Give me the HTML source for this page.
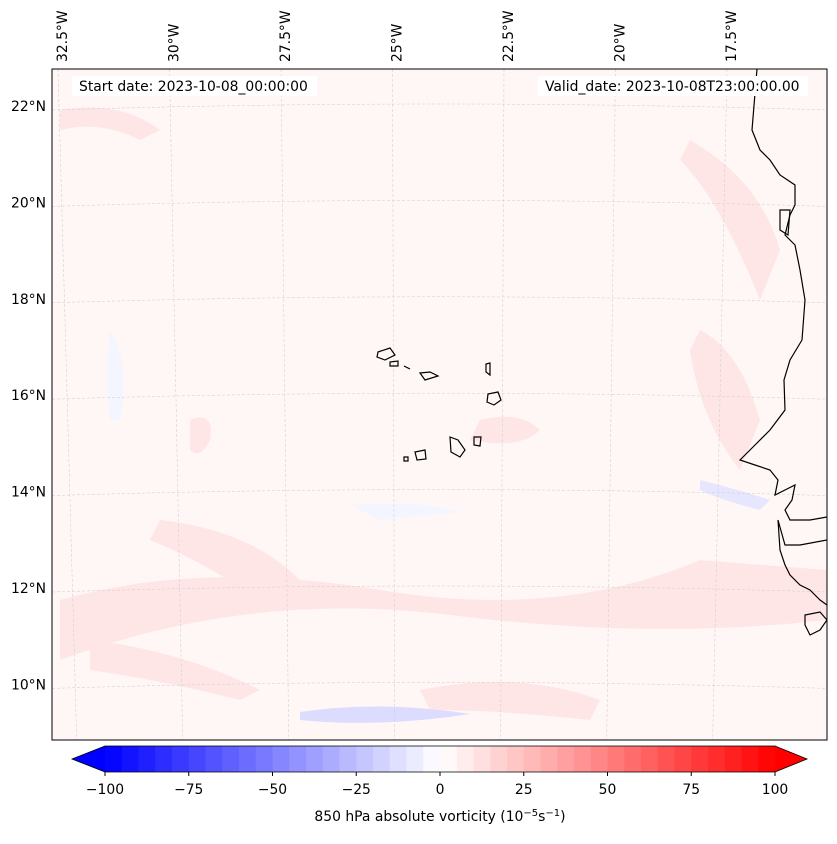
<!DOCTYPE html>
<html><head><meta charset="utf-8">
<style>
body{margin:0;background:#fff;font-family:"Liberation Sans","DejaVu Sans",sans-serif;}
svg text{font-family:"DejaVu Sans","Liberation Sans",sans-serif;font-size:13.9px;fill:#000}
</style></head>
<body>
<svg id="fig" width="837" height="839" viewBox="0 0 837 839">
<defs>
<clipPath id="mapclip"><rect x="52" y="69" width="775" height="671"/></clipPath>
</defs>
<g id="map" clip-path="url(#mapclip)">
<rect x="52" y="69" width="775" height="671" fill="#fff6f6"/>
<g fill="#ffe6e6">
<path d="M60 600 Q200 560 380 590 T700 560 L827 570 L827 620 Q650 640 450 615 T60 660Z"/>
<path d="M160 520 Q250 530 300 580 L260 600 Q200 560 150 540Z"/>
<path d="M480 420 Q520 410 540 430 Q520 450 470 440Z"/>
<path d="M690 140 Q760 180 780 250 L760 300 Q720 200 680 160Z"/>
<path d="M700 330 Q740 350 760 420 L740 470 Q700 420 690 350Z"/>
<path d="M60 110 Q120 100 160 130 L140 140 Q100 120 60 130Z"/>
<path d="M420 690 Q520 670 600 700 L590 720 Q500 710 430 710Z"/>
<path d="M90 640 Q180 650 260 690 L240 700 Q160 680 90 670Z"/>
<path d="M190 420 Q215 410 210 440 Q200 460 190 450Z"/>
</g>
<g fill="#f3f5ff">
<path d="M300 712 Q380 700 470 714 Q380 728 300 720Z" fill="#dcdcff"/>
<path d="M110 330 Q130 360 120 420 L110 420 Q105 370 110 330Z"/>
<path d="M700 480 Q740 490 770 500 L760 510 Q720 500 700 490Z" fill="#e6e6ff"/>
<path d="M350 505 Q420 500 460 512 L380 520Z"/>
</g>
<g id="grid" stroke="#ccc" stroke-width="0.5" stroke-dasharray="3,2" fill="none"></g>
<g fill="none" stroke="#000" stroke-width="1.2">
<path d="M757 69 L752 130 L760 150 L770 160 L780 175 L795 185 L795 205 L790 215 L785 235 L795 245 L800 270 L805 300 L802 340 L790 360 L784 380 L785 410 L770 430 L755 445 L740 460 L755 465 L770 470 L778 480 L775 495 L785 490 L795 485 L792 500 L785 510 L790 520 L810 520 L827 517"/>
<path d="M827 540 L800 545 L785 545 L778 520 L780 550 L785 565 L790 575 L800 585 L810 590 L820 600 L827 605"/>
<path d="M805 615 L820 612 L827 620 L820 630 L810 635 L805 625Z"/>
<path d="M378 352 L390 348 L395 355 L385 360 L377 357Z"/>
<path d="M390 362 L398 361 L398 366 L390 366Z"/>
<path d="M420 373 L430 372 L438 376 L425 380Z"/>
<path d="M486 364 L490 363 L490 375 L486 372Z"/>
<path d="M488 394 L498 392 L501 400 L494 405 L487 402Z"/>
<path d="M450 437 L458 440 L465 450 L460 457 L451 452Z"/>
<path d="M474 437 L481 437 L480 446 L474 445Z"/>
<path d="M415 452 L425 450 L426 459 L417 460Z"/>
<path d="M404 457 L408 457 L408 461 L404 461Z"/>
<path d="M404 366 L410 369" /><path d="M780 210 L790 210 L788 235 L780 230Z"/>
</g>
</g>
<rect x="52" y="69" width="775" height="671" fill="none" stroke="#000" stroke-width="1"/>
<rect x="72" y="76" width="245" height="20" fill="#fff"/>
<text x="79" y="91">Start date: 2023-10-08_00:00:00</text>
<rect x="538" y="76" width="270" height="20" fill="#fff"/>
<text x="545" y="91">Valid_date: 2023-10-08T23:00:00.00</text>
<g id="latlabels"></g>
<g id="lonlabels"></g>
<g id="cbar"></g>
<text x="440" y="821" text-anchor="middle">850 hPa absolute vorticity (10<tspan font-size="10" dy="-5">−5</tspan><tspan dy="5">s</tspan><tspan font-size="10" dy="-5">−1</tspan><tspan dy="5">)</tspan></text>
</svg>
<script>
const latTicks=[22,20,18,16,14,12,10];
const latLabels=["22°N","20°N","18°N","16°N","14°N","12°N","10°N"];
const lonTicks=[-32.5,-30,-27.5,-25,-22.5,-20,-17.5];
const lonLabels=["32.5°W","30°W","27.5°W","25°W","22.5°W","20°W","17.5°W"];
const cbarTicks=[-100,-75,-50,-25,0,25,50,75,100];
const cbarTickLabels=["−100","−75","−50","−25","0","25","50","75","100"];
const levelMin=-100, levelMax=100, levelStep=5;
const NS="http://www.w3.org/2000/svg";
function yLat(l){return 106+(22-l)*48.2;}
function xLon(l){return 62+(l+32.5)*44.6;}
function xC(v){return 105+(v-levelMin)/(levelMax-levelMin)*670;}
function mk(t,a,p){const e=document.createElementNS(NS,t);for(const k in a)e.setAttribute(k,a[k]);p.appendChild(e);return e;}
function bwr(v){const t=(v-levelMin)/(levelMax-levelMin);let r,g,b;
 if(t<0.5){r=g=Math.round(255*t*2);b=255;}else{r=255;g=b=Math.round(255*(1-t)*2);}return `rgb(${r},${g},${b})`;}
const grid=document.getElementById('grid');
latTicks.forEach(l=>{const y=yLat(l);
 const e=mk('path',{d:`M52 ${y+4} Q440 ${y-8} 827 ${y+4}`},grid);
 });
lonTicks.forEach(l=>{const x=xLon(l);
 const e=mk('line',{x1:x-4,y1:69,x2:x-4-(l+24)*2.2,y2:740},grid);
 });
const ll=document.getElementById('latlabels');
latTicks.forEach((l,i)=>{const t=mk('text',{x:46,y:yLat(l)+5,'text-anchor':'end'},ll);t.textContent=latLabels[i];
 });
const lo=document.getElementById('lonlabels');
lonTicks.forEach((l,i)=>{const x=xLon(l)+5;const t=mk('text',{x:x,y:62,transform:`rotate(-90 ${x} 62)`},lo);t.textContent=lonLabels[i];
 });
const cb=document.getElementById('cbar');
const y0=746,h=26;
let tl=mk('polygon',{points:`72,${y0+h/2} ${xC(levelMin)},${y0} ${xC(levelMin)},${y0+h}`,fill:bwr(levelMin)},cb);

let tr=mk('polygon',{points:`807,${y0+h/2} ${xC(levelMax)},${y0} ${xC(levelMax)},${y0+h}`,fill:bwr(levelMax)},cb);

for(let v=levelMin;v<levelMax;v+=levelStep){
 const r=mk('rect',{x:xC(v),y:y0,width:xC(v+levelStep)-xC(v)+0.5,height:h,fill:bwr(v+levelStep/2)},cb);
 }
const o=mk('polygon',{points:`72,${y0+h/2} ${xC(levelMin)},${y0} ${xC(levelMax)},${y0} 807,${y0+h/2} ${xC(levelMax)},${y0+h} ${xC(levelMin)},${y0+h}`,fill:'none',stroke:'#000','stroke-width':0.8},cb);

cbarTicks.forEach((v,i)=>{const x=xC(v);
 const k=mk('line',{x1:x,y1:y0+h,x2:x,y2:y0+h+4,stroke:'#000'},cb);
 
 const t=mk('text',{x:x,y:794,'text-anchor':'middle'},cb);t.textContent=cbarTickLabels[i];
 });
</script>
</body></html>
